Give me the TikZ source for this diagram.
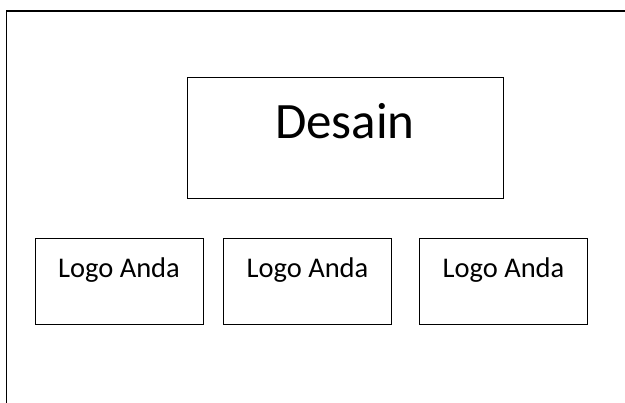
\documentclass[tikz,border=0pt]{standalone}
\usepackage{fontspec}
\setmainfont{Carlito}
\tikzstyle{frame}=[draw,line width=1.1pt,anchor=north west,minimum width=700pt,minimum height=500pt]
\tikzstyle{design}=[draw,line width=0.8pt,inner sep=0pt,minimum width=316pt,text height=61pt,text depth=60pt,font=\fontsize{51}{60}\selectfont]
\tikzstyle{logo}=[draw,line width=0.8pt,inner sep=0pt,minimum width=168pt,text height=40pt,text depth=46pt,font=\fontsize{28.5}{34}\selectfont]

\begin{document}
\begin{tikzpicture}[x=1pt,y=1pt]
  \clip (0,0) rectangle (625,403);
  \node[frame] (fr) at (6,392.5) {};
  \node[design] (ds) at (345,265) {Desain};
  \node[logo] (l1) at (119,122) {Logo Anda};
  \node[logo] (l2) at (307.5,122) {Logo Anda};
  \node[logo] (l3) at (503.5,122) {Logo Anda};
\end{tikzpicture}
\end{document}
